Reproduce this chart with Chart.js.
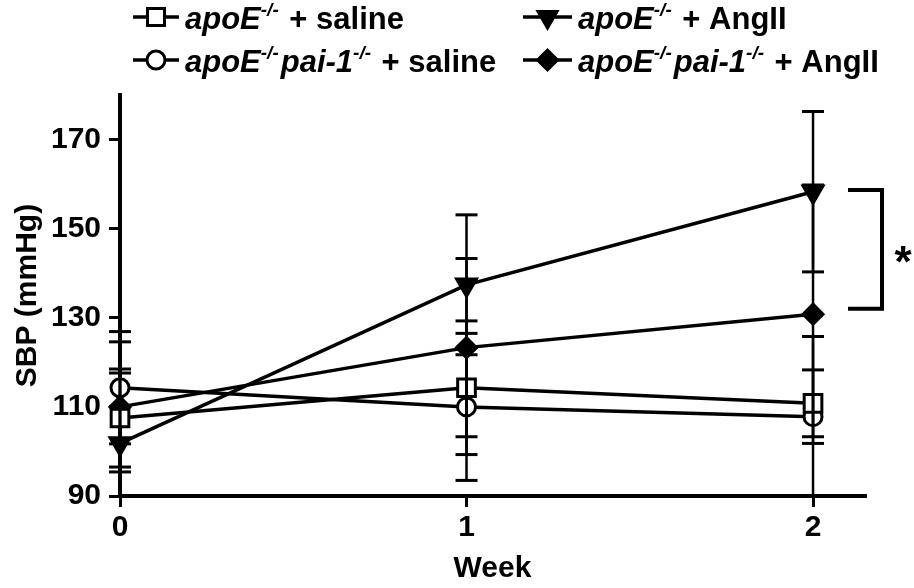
<!DOCTYPE html>
<html>
<head>
<meta charset="utf-8">
<script src="https://cdn.jsdelivr.net/npm/chart.js@4.4.1/dist/chart.umd.min.js"></script>
<style>
  html, body { margin: 0; padding: 0; background: #fff; }
  #wrap { width: 914px; height: 588px; }
</style>
</head>
<body>
<div id="wrap"><canvas id="sbpChart" width="914" height="588"></canvas></div>
<script>
// valores (SBP en mmHg)
const weeks = [0, 1, 2];
const xTicks = [0, 1, 2];
const yTicks = [90, 110, 130, 150, 170];

const apoeSaline = [107.5, 114.3, 110.8];
const apoeSalineErr = [11, 15, 7.5];
const apoePaiSaline = [114.3, 110.0, 107.8];
const apoePaiSalineErr = [12.6, 16.5, 18];
const apoeAng = [101.8, 137.4, 158.3];
const apoeAngErr = [15.8, 15.7, 18];
const apoePaiAng = [110.0, 123.3, 130.8];
const apoePaiAngErr = [14.6, 20, 29];

const FONT = "'Liberation Sans', Arial, Helvetica, sans-serif";

// leyenda: [texto, cursiva, superíndice]
const legendItems = [
    { style: 'rect', rot: 0, fill: '#fff', r: 12, parts: [['apoE', 1, 0], ['-/-', 1, 1], [' + saline', 0, 0]] },
    { style: 'circle', rot: 0, fill: '#fff', r: 9, parts: [['apoE', 1, 0], ['-/-', 1, 1], ['pai-1', 1, 0], ['-/-', 1, 1], [' + saline', 0, 0]] },
    { style: 'triangle', rot: 180, fill: '#000', r: 11, parts: [['apoE', 1, 0], ['-/-', 1, 1], [' + AngII', 0, 0]] },
    { style: 'rectRot', rot: 0, fill: '#000', r: 10, parts: [['apoE', 1, 0], ['-/-', 1, 1], ['pai-1', 1, 0], ['-/-', 1, 1], [' + AngII', 0, 0]] }
];

function series(label, data, style, rot, fill, r) {
    return {
        label: label,
        data: weeks.map((w, i) => ({ x: w, y: data[i] })),
        borderColor: '#000',
        borderWidth: 3.5,
        pointStyle: style,
        rotation: rot,
        pointRadius: r,
        pointBorderWidth: 3,
        pointBackgroundColor: fill,
        pointBorderColor: '#000',
        clip: false,
        tension: 0
    };
}

const errList = [apoeSalineErr, apoePaiSalineErr, apoeAngErr, apoePaiAngErr];

// barras de error dibujadas con las escalas del gráfico
const errorBars = {
    id: 'errorBars',
    afterDatasetsDraw(chart) {
        const ctx = chart.ctx;
        const xs = chart.scales.x, ys = chart.scales.y;
        ctx.save();
        ctx.strokeStyle = '#000';
        chart.data.datasets.forEach((ds, i) => {
            ds.data.forEach((p, j) => {
                const e = errList[i][j];
                const x = xs.getPixelForValue(p.x);
                const hi = p.y + e, lo = p.y - e;
                const yHi = ys.getPixelForValue(Math.min(hi, ys.max));
                const yLo = ys.getPixelForValue(Math.max(lo, ys.min));
                ctx.lineWidth = 2.5;
                ctx.beginPath();
                ctx.moveTo(x, yHi);
                ctx.lineTo(x, yLo);
                ctx.stroke();
                ctx.lineWidth = 3;
                if (hi <= ys.max) {
                    ctx.beginPath(); ctx.moveTo(x - 11, yHi); ctx.lineTo(x + 11, yHi); ctx.stroke();
                }
                if (lo >= ys.min) {
                    ctx.beginPath(); ctx.moveTo(x - 11, yLo); ctx.lineTo(x + 11, yLo); ctx.stroke();
                }
            });
        });
        ctx.restore();
    }
};

function drawMarker(ctx, it, x, y) {
    if (Chart.helpers && Chart.helpers.drawPoint) {
        ctx.fillStyle = it.fill;
        ctx.strokeStyle = '#000';
        ctx.lineWidth = 3;
        Chart.helpers.drawPoint(ctx, { pointStyle: it.style, rotation: it.rot, radius: it.r, borderWidth: 3 }, x, y);
    }
}

// leyenda con cursiva y superíndices
const customLegend = {
    id: 'customLegend',
    afterDraw(chart) {
        const ctx = chart.ctx;
        const cols = [133, 523];
        const rows = [17, 60];
        ctx.save();
        legendItems.forEach((it, k) => {
            const x0 = cols[Math.floor(k / 2)];
            const y = rows[k % 2];
            const w = k < 2 ? 46 : 49;
            ctx.strokeStyle = '#000';
            ctx.lineWidth = 3.5;
            ctx.beginPath(); ctx.moveTo(x0, y); ctx.lineTo(x0 + w, y); ctx.stroke();
            drawMarker(ctx, it, x0 + w / 2, y);
            let tx = x0 + w + 6;
            ctx.fillStyle = '#000';
            ctx.textBaseline = 'alphabetic';
            ctx.textAlign = 'left';
            it.parts.forEach(([t, ital, sup]) => {
                const size = sup ? 19 : 31;
                ctx.font = (ital ? 'italic ' : '') + 'bold ' + size + 'px ' + FONT;
                ctx.fillText(t, tx, sup ? y - 1 : y + 12);
                tx += ctx.measureText(t).width + (sup ? 2 : 0);
            });
        });
        ctx.restore();
    }
};

// corchete de significancia en la semana 2
const sigBracket = {
    id: 'sigBracket',
    afterDraw(chart) {
        const ctx = chart.ctx;
        const xs = chart.scales.x, ys = chart.scales.y;
        const x = xs.getPixelForValue(weeks[2]);
        const yTop = ys.getPixelForValue(apoeAng[2] + 0.4);
        const yBot = ys.getPixelForValue(apoePaiAng[2] + 1.2);
        ctx.save();
        ctx.strokeStyle = '#000';
        ctx.lineWidth = 4;
        ctx.beginPath();
        ctx.moveTo(x + 35, yTop);
        ctx.lineTo(x + 69, yTop);
        ctx.lineTo(x + 69, yBot);
        ctx.lineTo(x + 35, yBot);
        ctx.stroke();
        ctx.fillStyle = '#000';
        ctx.font = 'bold 44px ' + FONT;
        ctx.textAlign = 'center';
        ctx.textBaseline = 'middle';
        ctx.fillText('*', x + 90, (yTop + yBot) / 2 + 15);
        ctx.restore();
    }
};

const tickFont = { family: FONT, size: 30, weight: 'bold' };
const titleFont = { family: FONT, size: 30, weight: 'bold' };

new Chart(document.getElementById('sbpChart'), {
    type: 'line',
    data: {
        datasets: [
            series('apoE-/- + saline', apoeSaline, 'rect', 0, '#fff', 12.5),
            series('apoE-/-pai-1-/- + saline', apoePaiSaline, 'circle', 0, '#fff', 9),
            series('apoE-/- + AngII', apoeAng, 'triangle', 180, '#000', 11.5),
            series('apoE-/-pai-1-/- + AngII', apoePaiAng, 'rectRot', 0, '#000', 10)
        ]
    },
    options: {
        responsive: false,
        animation: false,
        layout: { padding: { top: 95, right: 49, bottom: 0, left: 0 } },
        plugins: { legend: { display: false }, tooltip: { enabled: false } },
        scales: {
            x: {
                type: 'linear',
                min: 0,
                max: 2.15,
                afterBuildTicks: s => { s.ticks = xTicks.map(v => ({ value: v })); },
                afterFit: s => { s.height = 92; },
                ticks: { color: '#000', font: tickFont, padding: 3 },
                grid: { drawOnChartArea: false, tickLength: 11, lineWidth: 3, color: '#000' },
                border: { width: 4, color: '#000' },
                title: { display: true, text: 'Week', color: '#000', font: titleFont, padding: { top: 0, bottom: 1 } }
            },
            y: {
                min: 90,
                max: 180,
                afterBuildTicks: s => { s.ticks = yTicks.map(v => ({ value: v })); },
                afterFit: s => { s.width = 120; },
                ticks: { color: '#000', font: tickFont, padding: 8 },
                grid: { drawOnChartArea: false, tickLength: 11, lineWidth: 3, color: '#000' },
                border: { width: 4, color: '#000' },
                title: { display: true, text: 'SBP (mmHg)', color: '#000', font: titleFont, padding: { top: 10, bottom: 0 } }
            }
        }
    },
    plugins: [errorBars, customLegend, sigBracket]
});
</script>
</body>
</html>
